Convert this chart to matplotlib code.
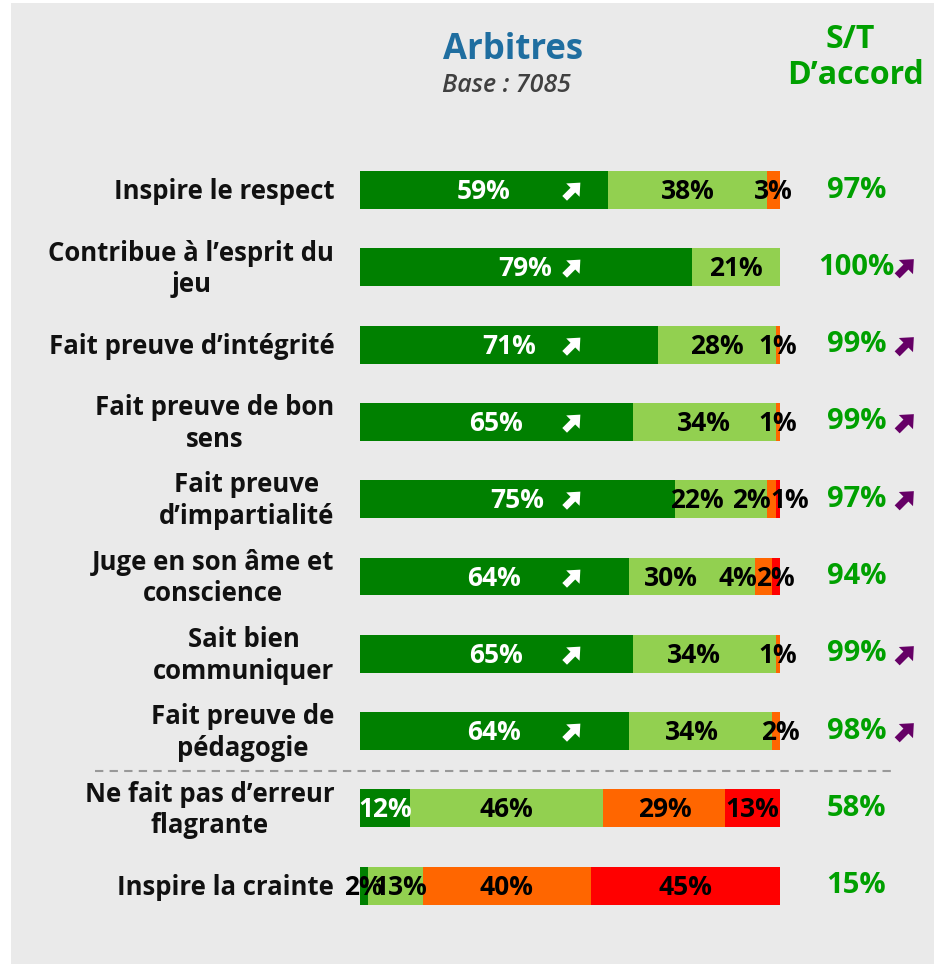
import matplotlib
matplotlib.use("Agg")
import matplotlib.pyplot as plt
from matplotlib.patches import Rectangle
from matplotlib.path import Path
from matplotlib.markers import MarkerStyle
from matplotlib.transforms import Affine2D

# --- données ---
items = [
    "Inspire le respect",
    "Contribue à l’esprit du\njeu",
    "Fait preuve d’intégrité",
    "Fait preuve de bon\nsens",
    "Fait preuve\nd’impartialité",
    "Juge en son âme et\nconscience",
    "Sait bien\ncommuniquer",
    "Fait preuve de\npédagogie",
    "Ne fait pas d’erreur\nflagrante",
    "Inspire la crainte",
]
tout_a_fait = [59, 79, 71, 65, 75, 64, 65, 64, 12, 2]
plutot = [38, 21, 28, 34, 22, 30, 34, 34, 46, 13]
plutot_pas = [3, 0, 1, 1, 2, 4, 1, 2, 29, 40]
pas_du_tout = [0, 0, 0, 0, 1, 2, 0, 0, 13, 45]
st_accord = [97, 100, 99, 99, 97, 94, 99, 98, 58, 15]
hausse_tout_a_fait = [True, True, True, True, True, True, True, True, False, False]
hausse_st = [False, True, True, True, True, False, True, True, False, False]

COLORS = ["#008000", "#92D050", "#FF6600", "#FF0000"]
GREEN_TXT = "#00A000"
PURPLE = "#660066"
FONT = "Open Sans"
# petits décalages manuels des étiquettes (ligne, segment) -> points de %
NUDGE = {(4, 1): -5.7, (4, 2): -4.7, (4, 3): 2.9,
         (5, 1): -5.0, (5, 2): -6.0,
         (6, 1): -2.6, (7, 1): -2.0, (7, 2): 1.0,
         (9, 1): 1.2}

# flèche épaisse "en hausse" (pointe vers le haut-droite)
_arrow = Path([(-1.0, -0.3), (0.05, -0.3), (0.05, -0.85), (1.0, 0.0), (0.05, 0.85),
               (0.05, 0.3), (-1.0, 0.3), (-1.0, -0.3)],
              [Path.MOVETO] + [Path.LINETO] * 6 + [Path.CLOSEPOLY])
ARROW = MarkerStyle(_arrow, transform=Affine2D().rotate_deg(45))

W, H = 934, 965
fig = plt.figure(figsize=(W / 100, H / 100), dpi=100, facecolor="white")
fig.patches.append(Rectangle((11 / W, 1 / H), 923 / W, 961 / H, transform=fig.transFigure,
                             facecolor="#EAEAEA", edgecolor="none", zorder=-10))

# axe des barres : x en %, y = index de ligne (77.3 px par ligne, 1re ligne à 190 px)
x0, x1 = 359.5, 780.0
step, first = 77.3, 190.0
ax = fig.add_axes([x0 / W, 0, (x1 - x0) / W, 1])
ax.set_xlim(0, 100)
ax.set_ylim((H - first) / step, -first / step)
ax.axis("off")

segs = [tout_a_fait, plutot, plutot_pas, pas_du_tout]
n = len(items)
for i in range(n):
    left = 0
    for k, serie in enumerate(segs):
        v = serie[i]
        if v <= 0:
            continue
        ax.barh(i, v, left=left, height=0.49, color=COLORS[k], edgecolor="none", zorder=2)
        col = "white" if (k == 0 and v >= 5) else "black"
        ax.text(left + v / 2 + NUDGE.get((i, k), 0), i + 0.02, f"{v}%", ha="center", va="center",
                fontsize=19, fontweight="bold", family=FONT, color=col, zorder=4, clip_on=False)
        left += v
    if hausse_tout_a_fait[i]:
        ax.plot([50.5], [i], marker=ARROW, markersize=16, color="white", zorder=4,
                markeredgewidth=0)
    # libellé de l'item
    ax.text(-6, i + 0.02, items[i], ha="right", va="center", multialignment="center",
            fontsize=18.5, fontweight="bold", family=FONT, color="#111111",
            linespacing=1.22, clip_on=False)
    # colonne S/T d'accord
    ax.text(118.2, i, f"{st_accord[i]}%", ha="center", va="center", fontsize=21,
            fontweight="bold", family=FONT, color=GREEN_TXT, clip_on=False)
    if hausse_st[i]:
        ax.plot([129.8], [i], marker=ARROW, markersize=17, color=PURPLE,
                markeredgewidth=0, clip_on=False)

# séparateur pointillé
ysep = (771 - first) / step
ax.plot([(95 - x0) / 4.205, (897 - x0) / 4.205], [ysep, ysep], color="#999999",
        lw=1.5, dashes=(4, 3), clip_on=False, zorder=1)

# en-têtes
fig.text(513 / W, 1 - 50 / H, "Arbitres", ha="center", va="center", fontsize=25,
         fontweight="bold", family=FONT, color="#1F6EA0")
fig.text(506 / W, 1 - 86 / H, "Base : 7085", ha="center", va="center", fontsize=18,
         style="italic", fontweight="semibold", family=FONT, color="#404040")
fig.text(850 / W, 1 - 40 / H, "S/T", ha="center", va="center", fontsize=23,
         fontweight="bold", family=FONT, color=GREEN_TXT)
fig.text(856 / W, 1 - 76 / H, "D’accord", ha="center", va="center", fontsize=23,
         fontweight="bold", family=FONT, color=GREEN_TXT)

fig.savefig("out.png", dpi=100, facecolor="white")
